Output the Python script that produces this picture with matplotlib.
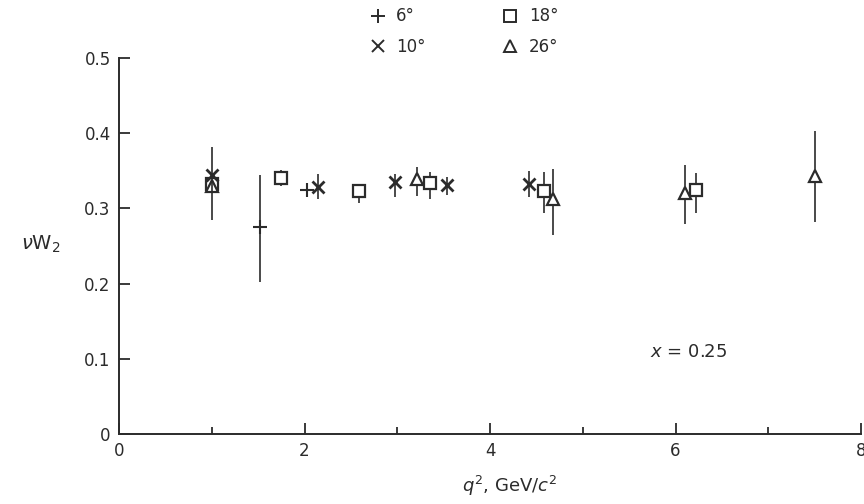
import numpy as np
import matplotlib
matplotlib.use("Agg")
import matplotlib.pyplot as plt
from matplotlib.lines import Line2D

# nu W2 vs q^2 at x = 0.25, four scattering angles
x6 = [1.52, 2.03]
y6 = [0.275, 0.325]
lo6 = [0.202, 0.320]
hi6 = [0.344, 0.330]

x10 = [1.00, 2.14, 2.97, 3.54, 4.42]
y10 = [0.344, 0.328, 0.335, 0.331, 0.332]
lo10 = [0.284, 0.312, 0.315, 0.318, 0.315]
hi10 = [0.381, 0.346, 0.346, 0.342, 0.350]

x18 = [1.00, 1.75, 2.59, 3.35, 4.58, 6.22]
y18 = [0.332, 0.341, 0.323, 0.334, 0.323, 0.324]
lo18 = [0.332, 0.330, 0.307, 0.313, 0.294, 0.294]
hi18 = [0.332, 0.351, 0.333, 0.349, 0.349, 0.347]

x26 = [1.00, 3.21, 4.68, 6.10, 7.50]
y26 = [0.330, 0.339, 0.313, 0.321, 0.343]
lo26 = [0.330, 0.316, 0.265, 0.279, 0.282]
hi26 = [0.330, 0.355, 0.352, 0.358, 0.403]

labels = ["6°", "10°", "18°", "26°"]
ink = "#2b2b2b"

plt.rcParams["font.family"] = ["DejaVu Sans"]

fig = plt.figure(figsize=(8.64, 5.04), dpi=100)
ax = fig.add_axes([0.1377, 0.139, 0.859, 0.746])


def draw(x, y, lo, hi, marker, ms, mew):
    x = np.array(x)
    y = np.array(y)
    err = [y - np.array(lo), np.array(hi) - y]
    ax.errorbar(x, y, yerr=err, fmt="none", ecolor=ink, elinewidth=1.2, capsize=0)
    ax.plot(x, y, linestyle="none", marker=marker, ms=ms, mew=mew,
            mec=ink, mfc="white" if marker in ("s", "^") else ink, color=ink)


draw(x6, y6, lo6, hi6, "+", 10, 1.5)
draw(x18, y18, lo18, hi18, "s", 8, 1.6)
draw(x26, y26, lo26, hi26, "^", 9, 1.6)
draw(x10, y10, lo10, hi10, "x", 8, 2.0)

ax.set_xlim(0, 8)
ax.set_ylim(0, 0.5)
ax.set_xticks([0, 2, 4, 6, 8])
ax.set_xticks([1, 3, 5, 7], minor=True)
ax.set_yticks([0, 0.1, 0.2, 0.3, 0.4, 0.5])
ax.set_yticklabels(["0", "0.1", "0.2", "0.3", "0.4", "0.5"])
ax.spines["top"].set_visible(False)
ax.spines["right"].set_visible(False)
for s in ("left", "bottom"):
    ax.spines[s].set_color(ink)
    ax.spines[s].set_linewidth(1.4)
ax.tick_params(axis="both", which="major", direction="in", length=8, width=1.3,
               color=ink, labelcolor=ink, labelsize=12, pad=6)
ax.tick_params(axis="x", which="minor", direction="in", length=5, width=1.3, color=ink)
ax.patch.set_alpha(0)

ax.text(5.72, 0.109, "$x$ = 0.25", fontsize=13, color=ink, va="center")

fig.text(0.047, 0.515, r"$\nu$W$_2$", fontsize=14, color=ink, ha="center", va="center")
fig.text(0.59, 0.035, r"$q^2$, GeV/$c^2$", fontsize=13, color=ink, ha="center", va="center")

handles = [
    Line2D([], [], ls="none", marker="+", ms=10, mew=1.4, color=ink),
    Line2D([], [], ls="none", marker="x", ms=8, mew=1.4, color=ink),
    Line2D([], [], ls="none", marker="s", ms=8, mew=1.4, mec=ink, mfc="white"),
    Line2D([], [], ls="none", marker="^", ms=8, mew=1.4, mec=ink, mfc="white"),
]
leg = fig.legend(handles, labels, ncol=2, loc="upper left", bbox_to_anchor=(0.41, 1.015),
                 frameon=False, fontsize=12, handlelength=1.0, handletextpad=0.6,
                 columnspacing=4.6, labelspacing=0.75)
for t in leg.get_texts():
    t.set_color(ink)

fig.savefig("out.png", dpi=100)
